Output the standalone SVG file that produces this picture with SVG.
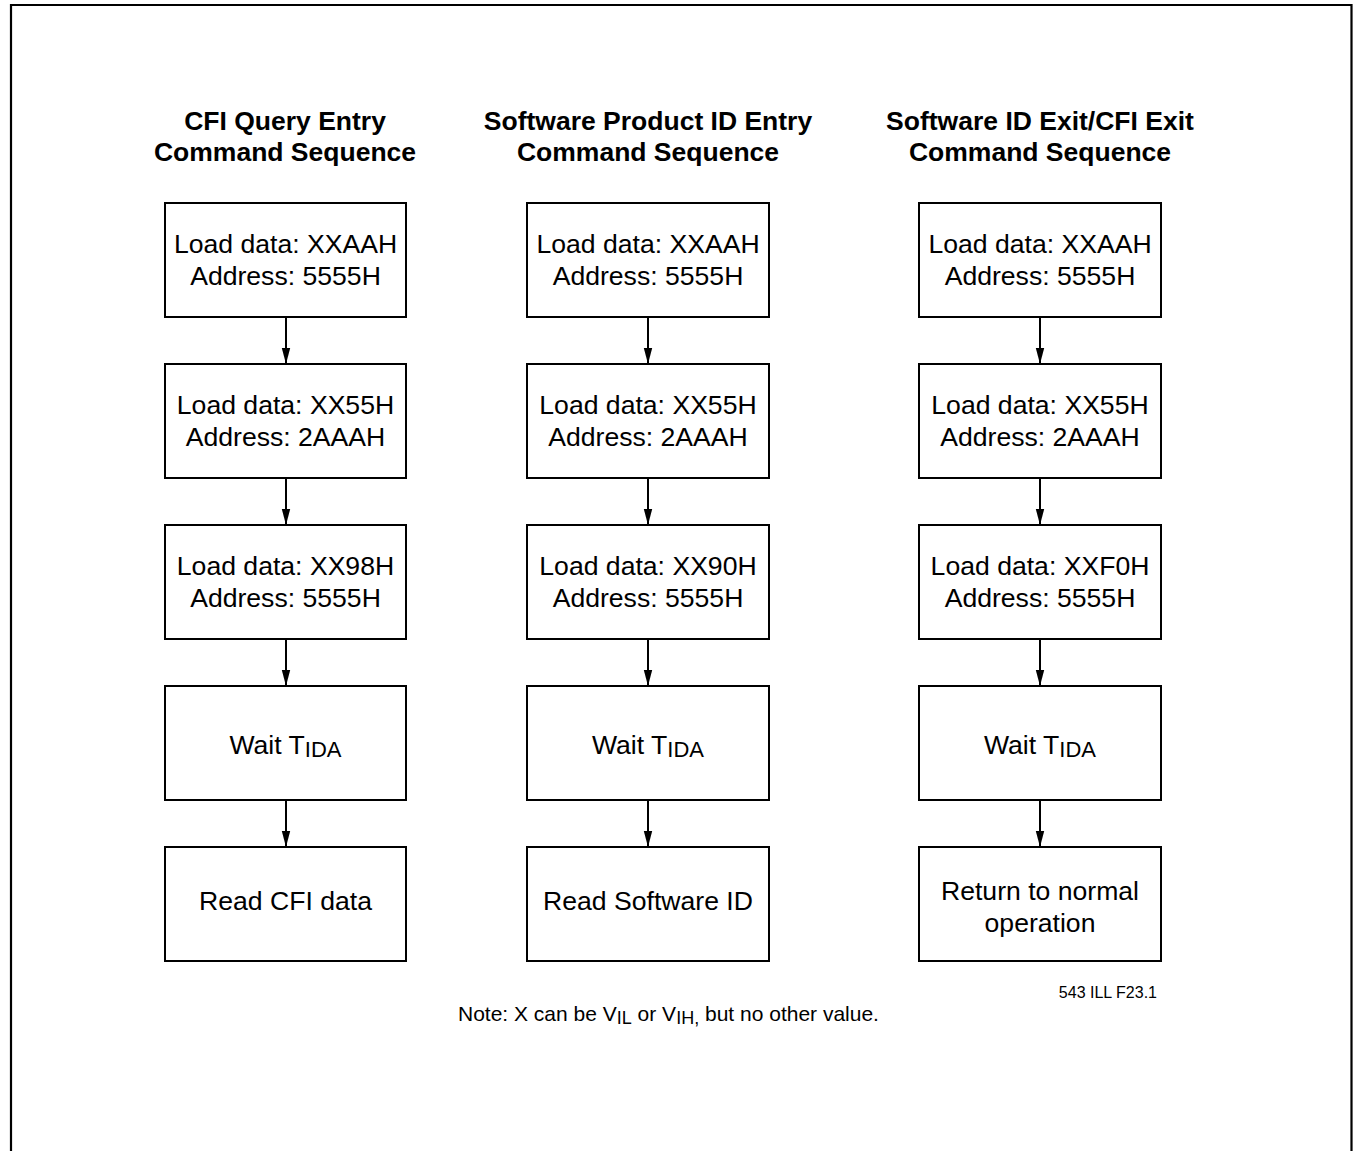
<svg xmlns="http://www.w3.org/2000/svg" width="1353" height="1151" viewBox="0 0 1353 1151">
<style>
.frame{fill:none;stroke:#000;stroke-width:2.2}
.box{fill:#fff;stroke:#000;stroke-width:2}
.t{font-family:"Liberation Sans",Arial,sans-serif;font-size:26.6px;fill:#000;text-anchor:middle}
.h{font-family:"Liberation Sans",Arial,sans-serif;font-size:26.5px;font-weight:bold;fill:#000;text-anchor:middle}
.n{font-family:"Liberation Sans",Arial,sans-serif;font-size:21px;fill:#000}
.s{font-family:"Liberation Sans",Arial,sans-serif;font-size:16px;fill:#000;text-anchor:end}
.c{stroke:#000;stroke-width:2;fill:none;marker-end:url(#ah)}
</style>
<defs>
<marker id="ah" markerUnits="userSpaceOnUse" markerWidth="17" markerHeight="10" refX="16" refY="5" orient="auto" viewBox="0 0 17 10">
<path d="M0,0.8 L16,5 L0,9.2 Z" fill="#000"/>
</marker>
</defs>
<rect width="1353" height="1151" fill="#fff"/>
<path class="frame" d="M11,1155 V5 H1351.5 V1155"/>

<g id="titles">
<text class="h" x="285" y="130">CFI Query Entry</text>
<text class="h" x="285" y="161">Command Sequence</text>
<text class="h" x="648" y="130">Software Product ID Entry</text>
<text class="h" x="648" y="161">Command Sequence</text>
<text class="h" x="1040" y="130">Software ID Exit/CFI Exit</text>
<text class="h" x="1040" y="161">Command Sequence</text>
</g>

<g id="connectors">
<path class="c" d="M286,317 V364"/>
<path class="c" d="M286,478 V525"/>
<path class="c" d="M286,639 V686"/>
<path class="c" d="M286,800 V847"/>
<path class="c" d="M648,317 V364"/>
<path class="c" d="M648,478 V525"/>
<path class="c" d="M648,639 V686"/>
<path class="c" d="M648,800 V847"/>
<path class="c" d="M1040,317 V364"/>
<path class="c" d="M1040,478 V525"/>
<path class="c" d="M1040,639 V686"/>
<path class="c" d="M1040,800 V847"/>
</g>

<g id="c1n1"><rect class="box" x="165" y="203" width="241" height="114"/><text class="t" x="285.5" y="253">Load data: XXAAH</text><text class="t" x="285.5" y="285">Address: 5555H</text></g>
<g id="c1n2"><rect class="box" x="165" y="364" width="241" height="114"/><text class="t" x="285.5" y="414">Load data: XX55H</text><text class="t" x="285.5" y="446">Address: 2AAAH</text></g>
<g id="c1n3"><rect class="box" x="165" y="525" width="241" height="114"/><text class="t" x="285.5" y="575">Load data: XX98H</text><text class="t" x="285.5" y="607">Address: 5555H</text></g>
<g id="c1n4"><rect class="box" x="165" y="686" width="241" height="114"/><text class="t" x="285.5" y="754" font-size="27">Wait T<tspan font-size="22" dy="3">IDA</tspan></text></g>
<g id="c1n5"><rect class="box" x="165" y="847" width="241" height="114"/><text class="t" x="285.5" y="910">Read CFI data</text></g>

<g id="c2n1"><rect class="box" x="527" y="203" width="242" height="114"/><text class="t" x="648" y="253">Load data: XXAAH</text><text class="t" x="648" y="285">Address: 5555H</text></g>
<g id="c2n2"><rect class="box" x="527" y="364" width="242" height="114"/><text class="t" x="648" y="414">Load data: XX55H</text><text class="t" x="648" y="446">Address: 2AAAH</text></g>
<g id="c2n3"><rect class="box" x="527" y="525" width="242" height="114"/><text class="t" x="648" y="575">Load data: XX90H</text><text class="t" x="648" y="607">Address: 5555H</text></g>
<g id="c2n4"><rect class="box" x="527" y="686" width="242" height="114"/><text class="t" x="648" y="754" font-size="27">Wait T<tspan font-size="22" dy="3">IDA</tspan></text></g>
<g id="c2n5"><rect class="box" x="527" y="847" width="242" height="114"/><text class="t" x="648" y="910">Read Software ID</text></g>

<g id="c3n1"><rect class="box" x="919" y="203" width="242" height="114"/><text class="t" x="1040" y="253">Load data: XXAAH</text><text class="t" x="1040" y="285">Address: 5555H</text></g>
<g id="c3n2"><rect class="box" x="919" y="364" width="242" height="114"/><text class="t" x="1040" y="414">Load data: XX55H</text><text class="t" x="1040" y="446">Address: 2AAAH</text></g>
<g id="c3n3"><rect class="box" x="919" y="525" width="242" height="114"/><text class="t" x="1040" y="575">Load data: XXF0H</text><text class="t" x="1040" y="607">Address: 5555H</text></g>
<g id="c3n4"><rect class="box" x="919" y="686" width="242" height="114"/><text class="t" x="1040" y="754" font-size="27">Wait T<tspan font-size="22" dy="3">IDA</tspan></text></g>
<g id="c3n5"><rect class="box" x="919" y="847" width="242" height="114"/><text class="t" x="1040" y="900">Return to normal</text><text class="t" x="1040" y="932">operation</text></g>

<g id="notes">
<text class="s" x="1157" y="998">543 ILL F23.1</text>
<text class="n" x="458" y="1021">Note: X can be V<tspan font-size="18" dy="3">IL</tspan><tspan dy="-3"> or V</tspan><tspan font-size="18" dy="3">IH,</tspan><tspan dy="-3"> but no other value.</tspan></text>
</g>
</svg>
